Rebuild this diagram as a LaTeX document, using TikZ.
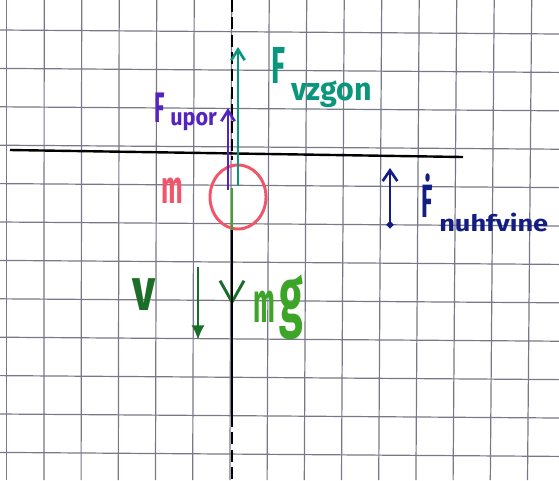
\documentclass[tikz,border=0pt]{standalone}
\usepackage{fontspec}
\setmainfont{Fira Sans}
\usetikzlibrary{arrows.meta,shapes.geometric}
\definecolor{gridc}{RGB}{120,120,138}
\definecolor{tealc}{RGB}{10,150,125}
\definecolor{purplec}{RGB}{85,35,190}
\definecolor{redc}{RGB}{240,85,105}
\definecolor{mgc}{RGB}{60,165,40}
\definecolor{vc}{RGB}{25,110,40}
\definecolor{bluec}{RGB}{20,30,130}
\tikzset{
  gridline/.style={draw=gridc, line width=0.9pt},
  lbl/.style={inner sep=0pt, anchor=base west},
  vec/.style={line width=2.1pt},
  barb/.style={-{Straight Barb[length=8pt,width=10pt,line width=2pt]}},
}
\newcommand{\fs}[1]{\fontsize{#1}{#1}\selectfont\bfseries}
\begin{document}
\begin{tikzpicture}[x=0.75pt,y=-0.75pt]
\useasboundingbox (0,0) rectangle (559,480);
\fill[white] (0,0) rectangle (559,480);
% grid paper
\foreach \k in {0,...,14}
  \draw[gridline] ({6.7+37.5*\k},0) -- ({6.7+37.2*\k},480);
\foreach \j in {0,...,11}
  \draw[gridline] (0,{30+38.4*\j}) -- (559,{34+38.4*\j});
% coordinates
\coordinate (ax0) at (232,0);
\coordinate (ax1) at (232,160);
\coordinate (ax2) at (232,415);
\coordinate (ax3) at (232,480);
\coordinate (hl) at (10,150);
\coordinate (hr) at (463,157);
\node[ellipse, draw=redc, line width=2.2pt, minimum width=42pt, minimum height=48pt, inner sep=0pt] (ball) at (238,197) {};
\coordinate (tv0) at (238,186);
\coordinate (tv1) at (238,47);
\coordinate (up0) at (228,190);
\coordinate (up1) at (228,108);
\coordinate (mg0) at (232,188);
\coordinate (mg1) at (232,305);
\coordinate (v0) at (198,267);
\coordinate (v1) at (198,340);
\coordinate (n0) at (390,228);
\coordinate (n1) at (390,168);
% surface line
\draw[black, line width=1.8pt] (hl) -- (hr);
% forces
\draw[vec, draw=vc, -{Straight Barb[length=16pt,width=18pt,line width=2.2pt]}] (mg0) -- (mg1);
\draw[vec, draw=mgc] (mg0) -- (232,230);
% axis
\draw[black, line width=1.8pt, dash pattern=on 9pt off 4pt] (ax0) -- (ax1);
\draw[black, line width=2pt] (232,230) -- (ax2);
\draw[black, line width=1.8pt, dash pattern=on 9pt off 4pt] (ax2) -- (ax3);
\draw[vec, draw=tealc, barb] (tv0) -- (tv1);
\draw[vec, draw=purplec, barb] (up0) -- (up1);
\draw[vec, draw=vc, -{Latex[length=11pt,width=10pt]}] (v0) -- (v1);
\draw[vec, draw=bluec, {Circle[length=5pt]}-{Straight Barb[length=8pt,width=11pt,line width=2pt]}] (n0) -- (n1);
% labels
\node[lbl, text=tealc] (Fv) at (271,83) {\fs{39pt}\scalebox{0.55}[1]{F}};
\node[lbl, text=tealc] (Fvs) at (291,100) {\fs{24pt}\scalebox{0.95}[1]{vzgon}};
\node[lbl, text=purplec] (Fu) at (154,122) {\fs{32pt}\scalebox{0.5}[1]{F}};
\node[lbl, text=purplec] (Fus) at (170,125) {\fs{18pt}\scalebox{0.9}[1]{upor}};
\node[lbl, text=redc] (m) at (161,203) {\fs{35pt}\scalebox{0.55}[1]{m}};
\node[lbl, text=bluec] (Fn) at (421,217) {\fs{35pt}\scalebox{0.5}[1]{\.F}};
\node[lbl, text=bluec] (Fns) at (439,231) {\fs{17pt}\scalebox{1.2}[1]{nuhfvine}};
\node[lbl, text=mgc] (mgm) at (253,322) {\fs{43pt}\scalebox{0.45}[1]{m}};
\node[lbl, text=mgc] (mgg) at (279,322) {\fs{43pt}\scalebox{0.75}[1.35]{g}};
\node[lbl, text=vc] (vl) at (132,310) {\fs{45pt}\scalebox{0.75}[1]{v}};
\end{tikzpicture}
\end{document}
